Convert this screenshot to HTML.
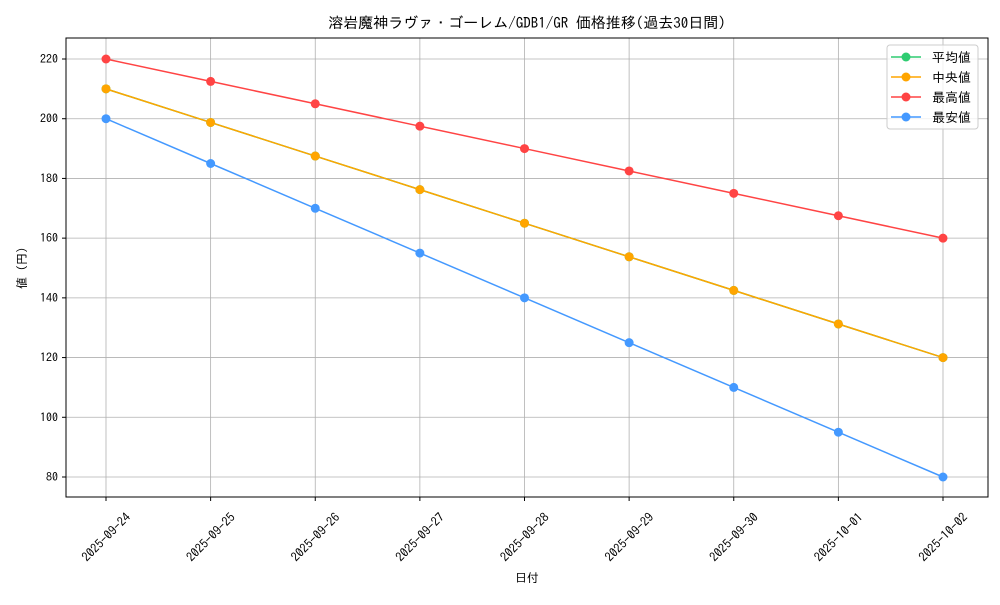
<!DOCTYPE html>
<html><head><meta charset="utf-8"><style>
body{margin:0;background:#fff}
svg text{font-family:"IPAGothic","Liberation Sans","Noto Sans CJK JP",sans-serif;fill:#000}
</style></head><body>
<svg id="chart" width="1000" height="600" xmlns="http://www.w3.org/2000/svg">
<text x="527" y="28" font-size="15" text-anchor="middle">溶岩魔神ラヴァ・ゴーレム/GDB1/GR 価格推移(過去30日間)</text>
<g id="grid"></g>
<g id="axes"></g>
<g id="series"></g>
<rect x="66" y="38" width="922" height="459" fill="none" stroke="#000" stroke-width="1"/>
<text x="527" y="582" font-size="12" text-anchor="middle">日付</text>
<text x="26" y="268" font-size="12" text-anchor="middle" transform="rotate(-90 26 268)">値 (円)</text>
<g id="legend">
<rect x="887" y="45" width="91" height="84" rx="3" fill="#fff" fill-opacity="0.8" stroke="#ccc"/>
</g>
</svg>
<script>
const dates=["2025-09-24","2025-09-25","2025-09-26","2025-09-27","2025-09-28","2025-09-29","2025-09-30","2025-10-01","2025-10-02"];
const avgValues=[210,198.75,187.5,176.25,165,153.75,142.5,131.25,120];
const medianValues=[210,198.75,187.5,176.25,165,153.75,142.5,131.25,120];
const maxValues=[220,212.5,205,197.5,190,182.5,175,167.5,160];
const minValues=[200,185,170,155,140,125,110,95,80];
const yTicks=[80,100,120,140,160,180,200,220];
const seriesNames=["平均値","中央値","最高値","最安値"];
const seriesColors=["#2ecc71","#ffa500","#ff4444","#4499ff"];
const NS="http://www.w3.org/2000/svg";
const xS=i=>106+i*(943-106)/(dates.length-1);
const yS=v=>477-(v-80)*(477-59)/140;
function mk(t,a,p){const e=document.createElementNS(NS,t);for(const k in a)e.setAttribute(k,a[k]);p.appendChild(e);return e;}
const grid=document.getElementById('grid'),axes=document.getElementById('axes'),ser=document.getElementById('series'),leg=document.getElementById('legend');
dates.forEach((d,i)=>{const x=xS(i);
const gl=mk('line',{x1:x,x2:x,y1:38,y2:497,stroke:'#b0b0b0','stroke-width':0.8},grid);


mk('line',{x1:x,x2:x,y1:497,y2:501,stroke:'#000'},axes);
const t=mk('text',{x:x,y:537,'font-size':12.5,'text-anchor':'middle','dominant-baseline':'central',transform:`rotate(-45 ${x} 537)`},axes);t.textContent=d;

});
yTicks.forEach(v=>{const y=yS(v);
const gl=mk('line',{x1:66,x2:988,y1:y,y2:y,stroke:'#b0b0b0','stroke-width':0.8},grid);


mk('line',{x1:62,x2:66,y1:y,y2:y,stroke:'#000'},axes);
const t=mk('text',{x:58,y:y+4,'font-size':12,'text-anchor':'end'},axes);t.textContent=v;

});
const all=[avgValues,medianValues,maxValues,minValues];
all.forEach((vals,s)=>{const g=mk('g',{},ser);


mk('polyline',{points:vals.map((v,i)=>xS(i)+','+yS(v)).join(' '),fill:'none',stroke:seriesColors[s],'stroke-width':1.5},g);
vals.forEach((v,i)=>{const c=mk('circle',{cx:xS(i),cy:yS(v),r:4.5,fill:seriesColors[s]},g);

});
const ly=57+s*20;
const le=mk('g',{},leg);


mk('line',{x1:891,x2:921,y1:ly,y2:ly,stroke:seriesColors[s],'stroke-width':1.5},le);
mk('circle',{cx:906,cy:ly,r:4.5,fill:seriesColors[s]},le);
const t=mk('text',{x:932,y:ly+5,'font-size':13},le);t.textContent=seriesNames[s];});
</script>
</body></html>
